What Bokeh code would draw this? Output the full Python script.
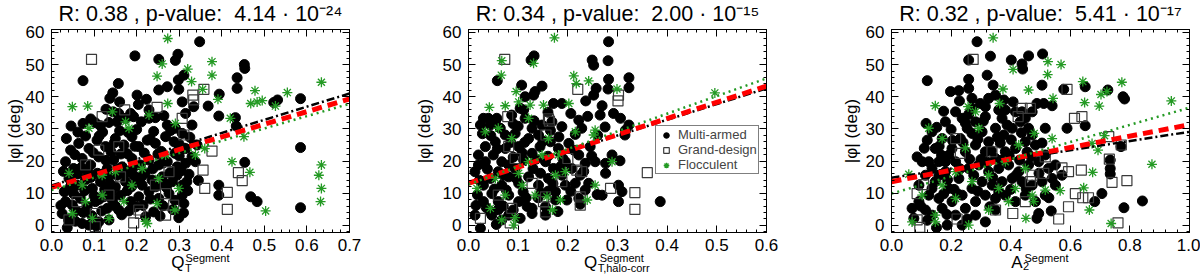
from bokeh.plotting import figure
from bokeh.models import (Title, Legend, LegendItem, LinearAxis, FixedTicker, Range1d,
                          PrintfTickFormatter)
from bokeh.layouts import row
from bokeh.embed import file_html
from bokeh.resources import INLINE

FONT = "Liberation Sans"
GREEN = "#249a24"

# ---------------- data ----------------
y_ticks = [0, 10, 20, 30, 40, 50, 60]
y_minor = [v for v in range(-2, 62, 2)]
y_label = "|\u03c6| (deg)"
legend_labels = ["Multi-armed", "Grand-design", "Flocculent"]

# Panel 1 : Q_T^Segment
p1_title = "R: 0.38 , p-value:\u00a0 4.14 \u00b7 10\u207b\u00b2\u2074"
p1_xbase, p1_xsub, p1_xsup = "Q", "T", "Segment"
p1_xticks = [0.0, 0.1, 0.2, 0.3, 0.4, 0.5, 0.6, 0.7]
p1_circ = [
    (0.348,57.1),(0.196,52.7),(0.252,51.6),(0.297,53.2),(0.291,51.3),(0.074,45.0),(0.453,50.0),(0.454,48.8),
    (0.436,45.9),(0.436,42.6),(0.394,40.8),(0.368,37.1),(0.393,34.0),(0.432,33.5),(0.434,30.9),(0.585,39.4),
    (0.531,39.0),(0.522,38.2),(0.585,24.2),(0.454,19.6),(0.393,12.5),(0.393,9.4),(0.468,8.9),(0.483,7.4),
    (0.585,5.5),(0.046,30.9),(0.157,44.1),(0.144,41.2),(0.137,39.5),(0.160,38.4),(0.252,42.1),(0.272,43.1),
    (0.298,45.2),(0.311,46.7),(0.299,42.3),(0.201,40.5),(0.223,39.2),(0.204,37.6),(0.229,35.9),(0.128,36.1),
    (0.145,35.3),(0.158,34.8),(0.186,34.8),(0.092,33.1),(0.103,31.9),(0.074,31.7),(0.115,31.0),(0.135,32.0),
    (0.154,32.2),(0.174,33.3),(0.193,33.8),(0.211,32.2),(0.229,33.3),(0.244,33.5),(0.264,34.1),(0.307,38.4),
    (0.334,36.9),(0.315,34.8),(0.330,31.2),(0.272,31.2),(0.291,30.2),(0.307,28.6),
    (0.025,3.7),(0.037,-0.7),(0.056,1.3),(0.072,0.6),(0.088,0.1),(0.111,1.1),(0.135,1.7),(0.182,4.5),
    (0.221,2.7),(0.299,2.4),(0.033,7.4),(0.049,6.3),(0.068,8.4),(0.084,5.8),(0.103,7.4),(0.123,8.9),
    (0.143,7.9),(0.162,9.4),(0.186,7.4),(0.205,8.9),(0.229,10.5),(0.252,8.4),(0.276,9.9),(0.307,9.4),
    (0.311,6.8),(0.131,5.3),(0.158,4.8),(0.041,14.6),(0.060,12.5),(0.080,14.1),(0.096,11.5),(0.115,13.6),
    (0.135,15.1),(0.150,12.0),(0.174,13.6),(0.193,15.6),(0.213,12.5),(0.236,14.1),(0.260,15.1),(0.284,13.6),
    (0.307,12.5),(0.295,15.6),(0.033,19.8),(0.052,17.7),(0.072,20.8),(0.092,18.8),(0.111,21.3),(0.131,17.7),
    (0.146,20.3),(0.166,18.2),(0.189,20.8),(0.209,18.8),(0.229,20.3),(0.252,18.8),(0.272,19.8),(0.295,18.2),
    (0.315,19.3),(0.338,19.8),(0.045,23.4),(0.064,25.5),(0.088,23.9),(0.107,26.5),(0.127,24.5),(0.150,27.0),
    (0.170,25.0),(0.189,27.6),(0.205,24.5),(0.225,26.5),(0.244,25.5),(0.268,27.6),(0.288,26.0),(0.315,23.9),
    (0.330,21.3),(0.342,25.0),
    (0.030,10.5),(0.052,9.8),(0.075,4.0),(0.095,3.0),(0.118,4.5),(0.140,10.2),(0.165,3.3),(0.178,10.8),
    (0.198,5.8),(0.215,6.2),(0.240,4.2),(0.262,6.1),(0.285,4.9),(0.320,10.8),(0.028,16.8),(0.062,16.0),
    (0.085,16.7),(0.100,9.2),(0.125,11.2),(0.155,15.6),(0.183,17.0),(0.220,16.3),(0.245,12.0),(0.270,11.8),
    (0.300,21.6),(0.055,22.0),(0.080,27.8),(0.098,22.6),(0.120,29.0),(0.140,22.8),(0.160,29.4),(0.178,22.3),
    (0.200,29.8),(0.218,22.5),(0.240,29.2),(0.258,23.0),(0.280,29.5),(0.300,25.2),(0.035,27.0),(0.062,29.0),
    (0.108,16.2),(0.200,13.9),(0.255,2.9),(0.323,15.9),(0.345,14.0),(0.310,3.9),(0.040,1.8),(0.105,-0.2),
    (0.150,6.0),
    (0.058,4.6),(0.078,10.8),(0.092,14.9),(0.112,8.1),(0.128,20.2),(0.147,25.6),(0.163,22.2),(0.172,16.1),
    (0.188,12.0),(0.196,18.5),(0.212,15.2),(0.232,8.2),(0.238,17.6),(0.250,22.2),(0.262,19.4),(0.278,16.4),
    (0.290,22.4),(0.305,17.0),(0.318,13.6),(0.325,27.4),(0.290,7.8),(0.265,13.2),(0.232,26.8),(0.196,24.6),
    (0.180,28.9),(0.112,27.8),(0.070,18.0),(0.045,12.2),(0.022,6.2),(0.137,13.0),
]
p1_sq = [
    (0.094,51.6),(0.358,42.3),(0.332,40.5),(0.334,39.0),(0.248,36.7),(0.172,35.9),(0.119,33.8),(0.307,33.3),
    (0.377,23.1),(0.356,17.2),(0.439,16.4),(0.448,13.9),(0.360,11.5),(0.413,10.3),(0.413,5.0),(0.268,9.9),
    (0.276,16.7),(0.287,6.3),(0.193,0.8),(0.205,4.8),(0.209,3.7),(0.103,-0.4),(0.103,3.7),(0.080,18.8),
    (0.111,23.4),(0.158,24.5),(0.311,28.1),(0.162,15.1),(0.268,3.2),(0.060,7.4),(0.041,1.7),(0.244,12.5),
    (0.135,9.4),
]
p1_star = [
    (0.273,58.1),(0.377,50.9),(0.377,46.7),(0.320,48.6),(0.248,46.4),(0.260,50.2),(0.329,44.7),(0.355,42.3),
    (0.273,37.9),(0.478,41.9),(0.554,41.3),(0.634,44.5),(0.468,37.9),(0.495,38.8),(0.483,38.4),(0.526,37.1),
    (0.420,33.3),(0.452,27.6),(0.424,19.8),(0.466,16.5),(0.634,18.8),(0.628,15.6),(0.634,11.5),(0.632,7.4),
    (0.503,4.5),(0.049,36.9),(0.085,37.1),(0.391,39.2),(0.291,31.7),(0.225,0.6),(0.221,1.3),(0.248,6.8),
    (0.290,4.8),(0.096,2.2),(0.135,2.2),(0.041,16.2),(0.119,9.4),(0.189,12.5),(0.150,16.7),(0.213,17.7),
    (0.268,21.9),(0.088,30.2),(0.182,30.2),(0.229,34.3),(0.143,35.3),(0.174,32.2),(0.080,7.4),(0.170,7.4),
    (0.252,14.6),(0.299,11.5),(0.338,21.9),(0.360,23.9),(0.072,12.5),(0.119,15.6),(0.049,3.7),
]
p1_fit_x = [0.0, 0.7]
p1_fit_multi = [12.4, 41.0]
p1_fit_all = [11.8, 39.3]
p1_fit_flocc = [11.0, 37.8]

# Panel 2 : Q_T,halo-corr^Segment
p2_title = "R: 0.34 , p-value:\u00a0 2.00 \u00b7 10\u207b\u00b9\u2075"
p2_xbase, p2_xsub, p2_xsup = "Q", "T,halo-corr", "Segment"
p2_xticks = [0.0, 0.1, 0.2, 0.3, 0.4, 0.5, 0.6]
p2_circ = [
    (0.282,57.1),(0.281,51.2),(0.249,51.4),(0.252,49.8),(0.126,51.4),(0.132,52.7),(0.058,45.0),(0.282,45.4),
    (0.281,42.4),(0.323,45.9),(0.323,42.8),(0.107,43.6),(0.148,43.3),(0.134,41.6),(0.131,40.5),(0.257,42.6),
    (0.252,40.5),(0.236,38.7),(0.269,37.2),(0.114,40.0),(0.171,37.9),(0.188,37.9),(0.104,36.4),(0.111,35.9),
    (0.087,34.3),(0.030,33.3),(0.040,33.3),(0.057,33.3),(0.024,31.2),(0.044,31.2),(0.054,32.2),(0.064,30.2),
    (0.222,32.7),(0.306,33.3),(0.323,31.2),(0.316,29.6),(0.315,28.1),(0.292,34.8),(0.265,34.3),(0.228,30.2),
    (0.188,30.7),(0.168,32.2),(0.148,31.2),(0.128,30.2),(0.114,33.3),(0.094,28.6),(0.074,28.1),(0.054,26.0),
    (0.034,24.5),(0.020,21.9),(0.020,18.8),(0.013,16.7),(0.013,3.2),(0.024,-0.9),(0.044,4.2),(0.056,0.3),
    (0.030,7.4),(0.047,9.9),(0.067,12.5),(0.081,15.1),(0.094,17.7),(0.111,20.3),(0.128,22.4),(0.144,24.5),
    (0.165,26.0),(0.181,23.9),(0.202,25.5),(0.222,21.9),(0.235,19.3),(0.255,19.8),(0.276,19.3),(0.289,21.9),
    (0.276,16.2),(0.302,12.5),(0.309,10.5),(0.302,7.4),(0.386,7.4),(0.259,9.6),(0.269,9.4),(0.242,13.1),
    (0.235,11.0),(0.222,8.4),(0.225,6.6),(0.198,7.9),(0.175,10.5),(0.155,3.2),(0.128,5.3),(0.101,7.4),
    (0.081,9.4),(0.060,7.4),(0.047,3.2),(0.067,1.7),(0.081,3.2),(0.104,2.2),(0.128,3.7),(0.155,5.8),
    (0.175,7.9),(0.195,12.5),(0.161,14.6),(0.141,12.5),(0.121,15.1),(0.101,13.1),(0.081,18.8),(0.060,16.7),
    (0.044,14.6),(0.030,12.5),(0.034,19.8),(0.050,21.9),(0.067,19.8),(0.074,23.9),(0.101,24.5),(0.121,27.0),
    (0.141,28.1),(0.155,19.8),(0.171,17.7),(0.188,15.6),(0.195,19.8),(0.208,17.7),(0.225,15.6),(0.215,13.1),
    (0.018,9.5),(0.036,5.5),(0.052,11.3),(0.070,6.0),(0.090,4.8),(0.110,10.4),(0.118,5.9),(0.140,8.6),
    (0.160,10.6),(0.180,4.3),(0.190,20.8),(0.100,30.8),(0.085,25.8),(0.045,27.9),(0.160,21.5),(0.130,17.6),
    (0.113,25.8),(0.145,16.2),(0.090,21.2),(0.070,15.6),(0.022,14.0),(0.028,28.5),(0.245,24.5),(0.215,28.3),
    (0.260,28.0),(0.275,30.6),(0.305,20.1),(0.240,33.9),(0.182,27.5),(0.206,34.8),(0.160,35.2),
    (0.015,6.2),(0.038,17.5),(0.058,23.8),(0.076,11.0),(0.096,14.6),(0.116,8.6),(0.136,20.6),(0.150,26.2),
    (0.170,13.0),(0.186,18.4),(0.206,10.6),(0.232,16.8),(0.248,21.6),(0.212,23.4),(0.165,29.5),(0.132,32.5),
    (0.090,31.6),(0.060,4.9),(0.146,10.0),(0.108,22.6),
]
p2_sq = [
    (0.073,51.6),(0.220,42.3),(0.302,40.5),(0.301,38.7),(0.079,33.8),(0.161,33.1),(0.163,32.4),(0.156,28.1),
    (0.081,24.5),(0.200,20.8),(0.228,16.7),(0.218,17.2),(0.360,16.4),(0.286,11.5),(0.335,10.2),(0.335,5.0),
    (0.225,8.9),(0.225,6.3),(0.188,13.6),(0.155,8.9),(0.151,7.4),(0.155,4.2),(0.087,5.3),(0.084,0.8),
    (0.024,2.2),(0.128,13.1),(0.060,9.4),(0.094,20.8),
]
p2_star = [
    (0.173,58.3),(0.067,51.2),(0.131,50.4),(0.066,46.7),(0.212,46.5),(0.217,44.1),(0.242,44.9),(0.299,42.4),
    (0.096,41.6),(0.042,36.7),(0.074,37.2),(0.151,37.4),(0.202,37.9),(0.124,37.4),(0.101,38.4),(0.496,41.2),
    (0.255,29.6),(0.252,28.1),(0.215,29.1),(0.289,19.8),(0.255,12.5),(0.239,7.9),(0.185,7.9),(0.169,4.8),
    (0.158,8.9),(0.067,1.7),(0.091,0.1),(0.094,2.4),(0.017,11.5),(0.060,30.2),(0.121,33.3),(0.181,21.9),
    (0.195,16.7),(0.175,15.6),(0.148,21.9),(0.121,19.8),(0.108,12.5),(0.134,9.4),(0.074,9.4),(0.044,5.3),
    (0.101,16.2),(0.087,27.0),(0.034,29.1),(0.161,27.0),(0.054,14.6),
]
p2_fit_x = [0.0, 0.6]
p2_fit_multi = [13.3, 42.6]
p2_fit_all = [13.1, 43.3]
p2_fit_flocc = [12.8, 45.7]

# Panel 3 : A_2^Segment
p3_title = "R: 0.32 , p-value:\u00a0 5.41 \u00b7 10\u207b\u00b9\u2077"
p3_xbase, p3_xsub, p3_xsup = "A", "2", "Segment"
p3_xticks = [0.0, 0.2, 0.4, 0.6, 0.8, 1.0]
p3_circ = [
    (0.287,57.1),(0.259,51.4),(0.507,53.3),(0.460,52.7),(0.402,51.4),(0.438,50.2),(0.440,48.6),(0.332,52.6),
    (0.120,45.0),(0.259,45.4),(0.198,41.6),(0.226,41.9),(0.259,42.6),(0.321,46.7),(0.341,43.6),(0.349,40.5),
    (0.326,39.5),(0.505,43.6),(0.578,42.3),(0.650,43.1),(0.726,42.1),(0.777,40.0),(0.782,39.3),(0.228,38.7),
    (0.270,39.5),(0.298,37.9),(0.377,39.0),(0.408,38.4),(0.438,35.3),(0.449,33.3),(0.488,37.9),(0.511,37.9),
    (0.539,37.2),(0.175,35.5),(0.259,34.5),(0.315,36.9),(0.360,35.9),(0.382,35.9),(0.589,30.2),(0.650,31.0),
    (0.770,24.5),(0.116,31.7),(0.120,26.5),(0.086,21.3),(0.734,20.3),(0.734,17.7),(0.734,16.0),(0.706,9.9),
    (0.682,7.4),(0.780,5.5),(0.842,7.6),(0.494,3.7),(0.488,2.2),(0.536,4.5),(0.151,-0.7),(0.187,0.1),
    (0.315,1.1),(0.069,5.3),(0.075,2.2),(0.092,7.4),(0.114,4.8),
    (0.136,11.5),(0.159,15.6),(0.181,19.8),(0.203,23.9),(0.231,27.0),(0.254,30.2),(0.282,32.2),(0.304,29.1),
    (0.326,26.0),(0.349,30.2),(0.377,28.1),(0.405,30.2),(0.432,32.2),(0.460,30.2),(0.449,26.0),(0.416,23.9),
    (0.382,22.9),(0.349,20.8),(0.315,22.9),(0.282,25.0),(0.248,22.9),(0.215,19.8),(0.181,16.7),(0.147,13.6),
    (0.125,9.4),(0.159,8.4),(0.192,11.5),(0.226,14.6),(0.259,17.7),(0.293,18.8),(0.326,16.7),(0.360,17.7),
    (0.393,18.8),(0.427,16.7),(0.460,18.8),(0.494,19.8),(0.527,17.7),(0.539,14.6),(0.505,13.6),(0.472,12.5),
    (0.438,13.6),(0.405,14.6),(0.371,13.6),(0.338,12.5),(0.304,13.6),(0.270,11.5),(0.237,9.4),(0.203,7.4),
    (0.170,5.3),(0.136,3.2),(0.215,3.2),(0.248,5.3),(0.282,7.4),(0.315,9.4),(0.349,8.4),(0.382,9.4),
    (0.416,7.4),(0.449,9.4),(0.483,7.4),(0.516,9.4),(0.550,12.5),(0.237,0.1),(0.282,3.2),(0.349,4.8),
    (0.192,21.8),(0.159,19.8),(0.136,17.7),(0.114,15.6),(0.092,12.5),(0.103,19.8),(0.147,23.9),(0.170,27.0),
    (0.136,29.1),(0.181,32.2),(0.215,35.3),(0.237,33.3),(0.270,36.4),(0.315,33.8),(0.371,33.3),(0.416,35.3),
    (0.472,28.1),(0.483,25.0),(0.516,21.9),(0.550,18.8),(0.572,15.6),(0.516,30.2),(0.472,35.3),
    (0.175,9.8),(0.210,11.2),(0.240,25.8),(0.300,20.5),(0.335,23.2),(0.365,25.6),(0.395,21.6),(0.430,20.3),
    (0.455,22.8),(0.160,24.6),(0.200,29.8),(0.270,28.6),(0.290,10.6),(0.360,10.5),(0.400,11.2),(0.330,5.8),
    (0.098,6.0),(0.110,24.0),(0.125,19.8),(0.152,30.5),(0.168,21.8),(0.188,14.2),(0.205,26.4),(0.222,9.8),
    (0.230,17.6),(0.248,31.8),(0.262,20.6),(0.276,15.6),(0.290,26.8),(0.308,32.4),(0.322,19.6),(0.340,14.8),
    (0.355,27.4),(0.372,20.4),(0.388,31.2),(0.402,26.6),(0.418,15.6),(0.436,28.8),(0.452,11.4),(0.468,21.4),
    (0.495,16.2),(0.505,25.6),(0.528,8.6),(0.254,2.0),(0.186,3.4),(0.120,1.6),
]
p3_sq = [
    (0.274,51.6),(0.589,42.3),(0.438,36.4),(0.466,36.4),(0.425,33.8),(0.614,33.3),(0.639,33.8),(0.729,27.6),
    (0.771,25.0),(0.731,20.6),(0.572,17.9),(0.594,16.7),(0.637,17.2),(0.740,13.4),(0.790,13.9),(0.617,9.9),
    (0.642,8.6),(0.661,8.6),(0.594,5.8),(0.561,2.0),(0.760,0.8),(0.511,16.2),(0.472,15.6),(0.466,13.6),
    (0.349,4.8),(0.407,3.7),(0.220,2.0),(0.095,-0.6),(0.086,1.7),(0.086,9.9),(0.108,12.7),(0.215,27.0),
    (0.337,22.9),(0.231,22.4),(0.449,7.4),(0.516,21.3),
]
p3_star = [
    (0.341,58.3),(0.525,50.9),(0.569,50.0),(0.524,46.9),(0.408,48.5),(0.374,42.4),(0.460,42.1),(0.642,44.7),
    (0.773,44.5),(0.703,40.7),(0.723,41.6),(0.939,38.7),(0.648,38.2),(0.697,37.1),(0.542,39.5),(0.147,37.2),
    (0.257,36.9),(0.363,37.9),(0.673,25.5),(0.693,23.4),(0.715,27.9),(0.874,19.0),(0.675,16.5),(0.645,11.7),
    (0.664,4.8),(0.451,2.2),(0.737,0.6),(0.259,0.1),(0.058,15.9),(0.170,27.0),(0.479,28.6),(0.516,11.0),
    (0.566,10.8),(0.472,9.4),(0.477,7.4),(0.393,7.4),(0.326,4.8),(0.147,3.2),(0.147,1.1),(0.069,1.1),
    (0.125,30.2),(0.282,35.3),(0.293,30.2),(0.248,24.1),(0.215,16.7),(0.170,12.5),(0.326,15.6),(0.382,19.8),
    (0.449,17.7),(0.427,25.0),(0.539,27.0),(0.416,11.5),(0.270,13.6),(0.360,11.5),(0.103,9.4),(0.215,8.4),
]
p3_fit_x = [0.0, 1.0]
p3_fit_multi = [14.8, 29.1]
p3_fit_all = [13.6, 31.3]
p3_fit_flocc = [9.9, 36.6]

# ---------------- layout constants ----------------
FRAME_W = 298
Y_RANGE = (-2.2, 60.9)


def ticks_axis(ax, ticks, minor, labels=True):
    ax.ticker = FixedTicker(ticks=ticks, minor_ticks=minor)
    ax.major_tick_in = 7
    ax.major_tick_out = 0
    ax.minor_tick_in = 3
    ax.minor_tick_out = 0
    ax.major_tick_line_color = "black"
    ax.minor_tick_line_color = "black"
    ax.axis_line_color = "black"
    if labels:
        ax.major_label_text_font = FONT
        ax.major_label_text_font_size = "17px"
        ax.major_label_text_color = "black"
    else:
        ax.major_label_text_font_size = "0px"
        ax.major_label_text_color = None
        ax.major_label_standoff = 0


def title(text, size, align, offset, standoff):
    return Title(text=text, align=align, offset=offset, vertical_align="top", standoff=standoff,
                 text_font=FONT, text_font_size=size, text_font_style="normal", text_color="black")


def panel(cfg):
    p = figure(width=cfg["w"], height=280, title=None,
               x_range=Range1d(*cfg["xr"]), y_range=Range1d(*Y_RANGE),
               output_backend="svg", toolbar_location=None,
               min_border_left=cfg["bl"], min_border_right=cfg["br"],
               min_border_top=29, min_border_bottom=48)
    p.grid.visible = False
    p.outline_line_color = "black"
    p.outline_line_width = 1
    p.background_fill_color = "white"
    p.border_fill_color = "white"

    xt = cfg["xticks"]
    step = xt[1] - xt[0]
    xminor = [round(i * step / 5, 4) for i in range(0, 5 * (len(xt) - 1) + 1)]
    ticks_axis(p.xaxis[0], xt, xminor)
    p.xaxis[0].formatter = PrintfTickFormatter(format="%.1f")
    p.xaxis[0].major_label_standoff = 6
    ticks_axis(p.yaxis[0], y_ticks, y_minor)
    p.yaxis[0].major_label_standoff = 7

    top = LinearAxis()
    ticks_axis(top, xt, xminor, labels=False)
    p.add_layout(top, "above")
    right = LinearAxis()
    ticks_axis(right, y_ticks, y_minor, labels=False)
    p.add_layout(right, "right")

    # y label (rotated title left of the tick labels)
    p.add_layout(title(y_label, "17px", "center", 0, cfg["yls"]), "left")
    # title above the top tick axis
    p.add_layout(title(cfg["title"], "21.5px", "center", 0, 3), "above")
    # x label: superscript, base letter, subscript stacked below the tick axis
    xl = cfg["xl"]
    p.add_layout(title(cfg["xsup"], "11px", "left", xl + cfg["sup_dx"], -4), "below")
    p.add_layout(title(cfg["xbase"], "17px", "right", FRAME_W - xl, -21), "below")
    p.add_layout(title(cfg["xsub"], "11px", "left", xl + 0.5, -3), "below")

    cx = [a for a, b in cfg["circ"]]; cy = [b for a, b in cfg["circ"]]
    sx = [a for a, b in cfg["sq"]]; sy = [b for a, b in cfg["sq"]]
    tx = [a for a, b in cfg["star"]]; ty = [b for a, b in cfg["star"]]
    rc = p.scatter(cx, cy, marker="circle", size=10, fill_color="black", line_color="black")
    rs = p.scatter(sx, sy, marker="square", size=10, fill_color=None, line_color="#3a3a3a", line_width=1.2)
    rt = p.scatter(tx, ty, marker="asterisk", size=10, line_color=GREEN, line_width=1.3)

    fx = cfg["fit_x"]
    p.line(fx, cfg["fit_multi"], line_color="black", line_width=2.5, line_dash="8 3 2 3")
    p.line(fx, cfg["fit_all"], line_color="red", line_width=5, line_dash="10 6")
    p.line(fx, cfg["fit_flocc"], line_color=GREEN, line_width=2.5, line_dash="2 4")

    if cfg.get("legend"):
        lg = Legend(items=[LegendItem(label=legend_labels[0], renderers=[rc]),
                           LegendItem(label=legend_labels[1], renderers=[rs]),
                           LegendItem(label=legend_labels[2], renderers=[rt])],
                    location=(187, 58), orientation="vertical",
                    border_line_color="black", border_line_width=1,
                    background_fill_color="white", background_fill_alpha=1.0,
                    label_text_font=FONT, label_text_font_size="13px",
                    glyph_width=18, glyph_height=14, label_height=14,
                    spacing=0, padding=1, margin=0, label_standoff=3)
        p.add_layout(lg, "center")
    return p


cfgs = [
    dict(w=403, xr=(0.0, 0.7), bl=51, br=54, xticks=p1_xticks, circ=p1_circ, sq=p1_sq, star=p1_star,
         fit_x=p1_fit_x, fit_multi=p1_fit_multi, fit_all=p1_fit_all, fit_flocc=p1_fit_flocc,
         title=p1_title, xl=133, sup_dx=1, yls=-7, xbase=p1_xbase, xsub=p1_xsub, xsup=p1_xsup),
    dict(w=431, xr=(0.0, 0.6), bl=65, br=68, xticks=p2_xticks, circ=p2_circ, sq=p2_sq, star=p2_star,
         fit_x=p2_fit_x, fit_multi=p2_fit_multi, fit_all=p2_fit_all, fit_flocc=p2_fit_flocc,
         title=p2_title, xl=128.7, sup_dx=2.5, yls=7, xbase=p2_xbase, xsub=p2_xsub, xsup=p2_xsup,
         legend=True),
    dict(w=366, xr=(0.0, 1.0), bl=57, br=11, xticks=p3_xticks, circ=p3_circ, sq=p3_sq, star=p3_star,
         fit_x=p3_fit_x, fit_multi=p3_fit_multi, fit_all=p3_fit_all, fit_flocc=p3_fit_flocc,
         title=p3_title, xl=131, sup_dx=2, yls=-1, xbase=p3_xbase, xsub=p3_xsub, xsup=p3_xsup),
]

plots = [panel(c) for c in cfgs]
layout = row(*plots)
open("out.html", "w").write(file_html(layout, INLINE))
